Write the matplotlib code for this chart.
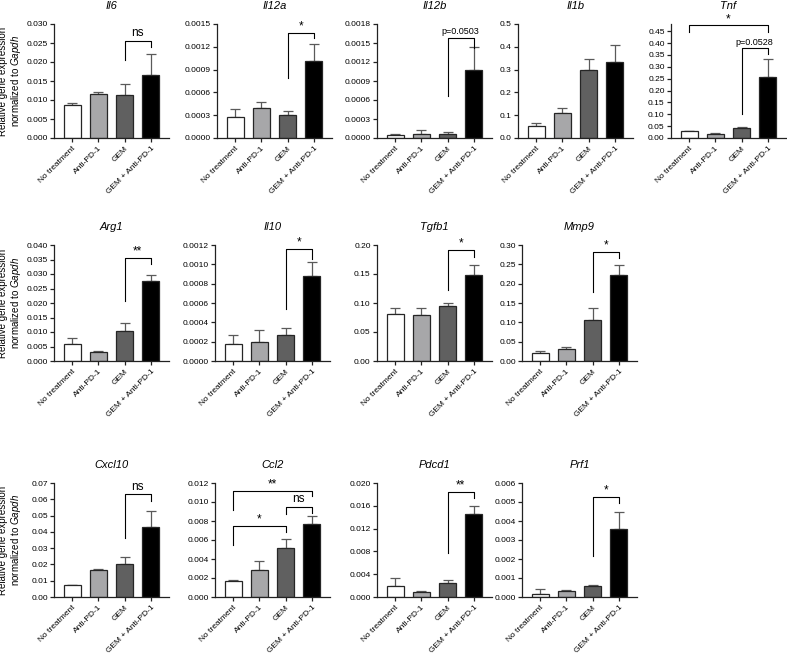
import numpy as np
import matplotlib
matplotlib.use("Agg")
import matplotlib.pyplot as plt

plt.rcParams['font.family'] = ['Liberation Sans', 'DejaVu Sans']
plt.rcParams['mathtext.fontset'] = 'custom'
plt.rcParams['mathtext.rm'] = 'Liberation Sans'
plt.rcParams['mathtext.it'] = 'Liberation Sans:italic'

groups = ["No treatment", "Anti-PD-1", "GEM", "GEM + Anti-PD-1"]
bar_colors = ["#ffffff", "#a7a7a9", "#606060", "#000000"]

genes = ["Il6", "Il12a", "Il12b", "Il1b", "Tnf",
         "Arg1", "Il10", "Tgfb1", "Mmp9",
         "Cxcl10", "Ccl2", "Pdcd1", "Prf1"]

# mean and SEM
means = {
    "Il6": [0.0087, 0.0117, 0.0113, 0.0165],
    "Il12a": [0.00027, 0.00039, 0.00030, 0.00101],
    "Il12b": [0.00005, 0.00007, 0.00007, 0.00107],
    "Il1b": [0.053, 0.11, 0.30, 0.335],
    "Tnf": [0.028, 0.018, 0.043, 0.255],
    "Arg1": [0.0057, 0.0032, 0.0102, 0.0275],
    "Il10": [0.00018, 0.00020, 0.00027, 0.00088],
    "Tgfb1": [0.081, 0.079, 0.095, 0.148],
    "Mmp9": [0.020, 0.030, 0.106, 0.222],
    "Cxcl10": [0.0072, 0.0165, 0.0205, 0.043],
    "Ccl2": [0.0017, 0.0028, 0.0052, 0.0077],
    "Pdcd1": [0.0019, 0.0009, 0.0025, 0.0145],
    "Prf1": [0.00018, 0.00033, 0.0006, 0.0036],
}
sems = {
    "Il6": [0.0006, 0.0005, 0.0028, 0.0055],
    "Il12a": [0.00011, 0.00008, 0.00006, 0.00023],
    "Il12b": [0.00002, 0.00005, 0.00003, 0.00036],
    "Il1b": [0.012, 0.02, 0.045, 0.075],
    "Tnf": [0.003, 0.004, 0.004, 0.078],
    "Arg1": [0.0023, 0.0002, 0.0028, 0.0021],
    "Il10": [0.00009, 0.00012, 0.00007, 0.00014],
    "Tgfb1": [0.011, 0.013, 0.005, 0.017],
    "Mmp9": [0.007, 0.005, 0.032, 0.026],
    "Cxcl10": [0.0004, 0.001, 0.004, 0.010],
    "Ccl2": [0.0001, 0.001, 0.0009, 0.0008],
    "Pdcd1": [0.0015, 0.0002, 0.0004, 0.0015],
    "Prf1": [0.00022, 0.00003, 0.00005, 0.0009],
}
# (y top tick, tick step, axis end, decimals)
yaxes = {
    "Il6": (0.030, 0.005, 0.030, 3),
    "Il12a": (0.0015, 0.0003, 0.0015, 4),
    "Il12b": (0.0018, 0.0003, 0.0018, 4),
    "Il1b": (0.5, 0.1, 0.5, 1),
    "Tnf": (0.45, 0.05, 0.48, 2),
    "Arg1": (0.040, 0.005, 0.040, 3),
    "Il10": (0.0012, 0.0002, 0.0012, 4),
    "Tgfb1": (0.20, 0.05, 0.20, 2),
    "Mmp9": (0.30, 0.05, 0.30, 2),
    "Cxcl10": (0.07, 0.01, 0.07, 2),
    "Ccl2": (0.012, 0.002, 0.012, 3),
    "Pdcd1": (0.020, 0.004, 0.020, 3),
    "Prf1": (0.006, 0.001, 0.006, 3),
}
# significance brackets: (bar i, bar j, y, left leg end, right leg end, label)
brackets = {
    "Il6": [(2, 3, 0.0255, 0.0205, 0.0240, "ns")],
    "Il12a": [(2, 3, 0.00138, 0.00079, 0.00131, "*")],
    "Il12b": [(2, 3, 0.00158, 0.00067, 0.00142, "p=0.0503")],
    "Tnf": [(0, 3, 0.474, 0.448, 0.446, "*"),
            (2, 3, 0.377, 0.10, 0.355, "p=0.0528")],
    "Arg1": [(2, 3, 0.0355, 0.0206, 0.0333, "**")],
    "Il10": [(2, 3, 0.00116, 0.00054, 0.00106, "*")],
    "Tgfb1": [(2, 3, 0.192, 0.122, 0.179, "*")],
    "Mmp9": [(2, 3, 0.282, 0.178, 0.267, "*")],
    "Cxcl10": [(2, 3, 0.063, 0.036, 0.059, "ns")],
    "Ccl2": [(0, 3, 0.0112, 0.0092, 0.0106, "**"),
             (2, 3, 0.0095, 0.0087, 0.0088, "ns"),
             (0, 2, 0.00745, 0.00545, 0.0068, "*")],
    "Pdcd1": [(2, 3, 0.0184, 0.0077, 0.0174, "**")],
    "Prf1": [(2, 3, 0.00528, 0.00217, 0.00497, "*")],
}

W, H = 787, 657
# panel left edge and y of axis top / zero, in pixels
panel_px = {
    "Il6": (54, 24, 138), "Il12a": (217, 24, 138), "Il12b": (377, 24, 138),
    "Il1b": (518, 24, 138), "Tnf": (671, 24, 138),
    "Arg1": (54, 245, 361), "Il10": (215, 245, 361), "Tgfb1": (377, 245, 361),
    "Mmp9": (522, 245, 361),
    "Cxcl10": (54, 483, 597), "Ccl2": (215, 483, 597), "Pdcd1": (377, 483, 597),
    "Prf1": (522, 483, 597),
}
axw = 115

fig = plt.figure(figsize=(W / 100, H / 100), dpi=100)
x = np.arange(len(groups))

for g in genes:
    left, top, bottom = panel_px[g]
    ax = fig.add_axes([left / W, 1 - bottom / H, axw / W, (bottom - top) / H])
    m = np.array(means[g])
    s = np.array(sems[g])
    ymax, step, yend, dec = yaxes[g]

    ax.errorbar(x, m, yerr=[np.zeros_like(s), s], fmt='none', ecolor='#5a5a5a',
                elinewidth=0.9, capsize=3.5, capthick=0.9, zorder=1)
    ax.bar(x, m, width=0.66, color=bar_colors, edgecolor='#262626', linewidth=0.9, zorder=2)

    ax.set_xlim(-0.7, 3.7)
    ax.set_ylim(0, yend)
    ticks = np.arange(0, ymax + step / 2, step)
    ax.set_yticks(ticks)
    ax.set_yticklabels([f"{t:.{dec}f}" for t in ticks], fontsize=6)
    ax.set_xticks(x)
    ax.set_xticklabels(groups, rotation=45, ha='right', rotation_mode='anchor', fontsize=6)
    ax.tick_params(axis='both', length=3, width=0.9, color='#222222', pad=1.5)
    ax.tick_params(axis='x', pad=2)
    for sp in ['top', 'right']:
        ax.spines[sp].set_visible(False)
    for sp in ['left', 'bottom']:
        ax.spines[sp].set_linewidth(0.9)
        ax.spines[sp].set_color('#222222')
    ax.set_title(g, fontstyle='italic', fontsize=8, pad=11)

    for (i, j, yb, yl, yr, lab) in brackets.get(g, []):
        ax.plot([i, i, j, j], [yl, yb, yb, yr], color='black', lw=0.8, clip_on=False, zorder=3)
        fs = 6.5 if lab.startswith('p') else 8.5
        off = 0.004 * yend if lab.startswith('*') else 0.015 * yend
        ax.text((i + j) / 2, yb + off, lab, ha='center', va='bottom', fontsize=fs)

for top, bottom in [(24, 138), (245, 361), (483, 597)]:
    fig.text(11 / W, 1 - (top + bottom) / 2 / H,
             "Relative gene expression\nnormalized to $\\it{Gapdh}$",
             rotation=90, ha='center', va='center', fontsize=7, linespacing=1.1)

fig.savefig("out.png", dpi=100)
